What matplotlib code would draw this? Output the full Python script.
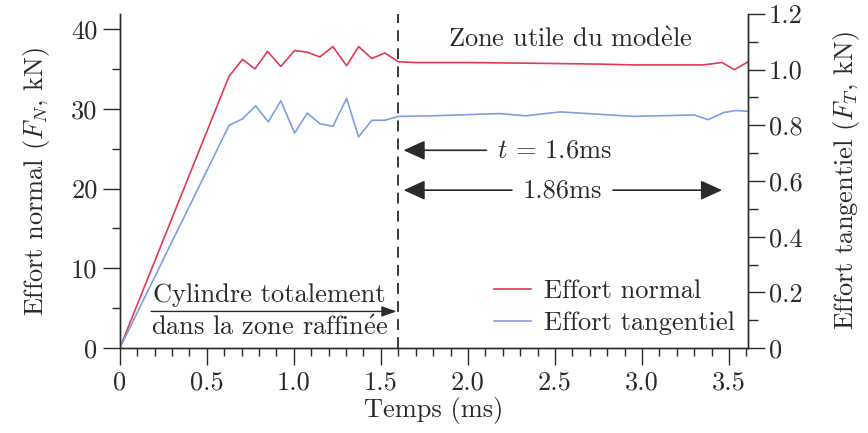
import matplotlib
matplotlib.use('Agg')
import matplotlib.pyplot as plt
from matplotlib.ticker import MultipleLocator

plt.rcParams['font.family'] = ['cmr10', 'DejaVu Serif']
plt.rcParams['mathtext.fontset'] = 'cm'
plt.rcParams['axes.formatter.use_mathtext'] = True
plt.rcParams['font.size'] = 19

# effort normal (kN), left axis
t_normal = [0, 0.628, 0.705, 0.776, 0.849, 0.925, 1.004, 1.077, 1.149, 1.224,
            1.303, 1.372, 1.448, 1.523, 1.60, 1.70, 2.0, 2.4, 2.76, 2.95,
            3.35, 3.46, 3.53, 3.61]
f_normal = [0, 34.1, 36.2, 35.0, 37.2, 35.3, 37.3, 37.1, 36.5, 37.8,
            35.4, 37.8, 36.3, 37.0, 35.9, 35.8, 35.8, 35.7, 35.6, 35.5,
            35.5, 35.8, 34.9, 35.9]

# effort tangentiel (kN), right axis
t_tang = [0, 0.628, 0.705, 0.78, 0.853, 0.925, 1.004, 1.077, 1.149, 1.224,
          1.303, 1.372, 1.448, 1.523, 1.60, 1.80, 2.18, 2.33, 2.53, 2.95,
          3.30, 3.38, 3.47, 3.54, 3.61]
f_tang = [0, 0.800, 0.823, 0.870, 0.812, 0.888, 0.772, 0.844, 0.806, 0.796,
          0.896, 0.758, 0.818, 0.818, 0.832, 0.834, 0.842, 0.834, 0.848, 0.832,
          0.837, 0.820, 0.846, 0.853, 0.850]

x_ticks = [0, 0.5, 1.0, 1.5, 2.0, 2.5, 3.0, 3.5]
x_labels = ['0', '0.5', '1.0', '1.5', '2.0', '2.5', '3.0', '3.5']
yl_ticks = [0, 10, 20, 30, 40]
yl_labels = ['0', '10', '20', '30', '40']
yr_ticks = [0, 0.2, 0.4, 0.6, 0.8, 1.0, 1.2]
yr_labels = ['0', '0.2', '0.4', '0.6', '0.8', '1.0', '1.2']

red = '#e23a55'
blue = '#7f9fe0'
dark = '#2a2a2a'

fig = plt.figure(figsize=(8.68, 4.33), dpi=100)
ax = fig.add_axes([0.138, 0.196, 0.724, 0.772])
ax2 = ax.twinx()

l1, = ax.plot(t_normal, f_normal, color=red, lw=1.2, label='Effort normal')
l2, = ax2.plot(t_tang, f_tang, color=blue, lw=1.2, label='Effort tangentiel')

ax.set_xlim(0, 3.61)
ax.set_ylim(0, 41.9)
ax2.set_ylim(0, 1.2)

for a in (ax, ax2):
    a.spines['top'].set_visible(False)
    for s in a.spines.values():
        s.set_color(dark)
        s.set_linewidth(1.0)

ax.set_xticks(x_ticks)
ax.set_xticklabels(x_labels)
ax.xaxis.set_minor_locator(MultipleLocator(0.1))
ax.set_yticks(yl_ticks)
ax.set_yticklabels(yl_labels)
ax.yaxis.set_minor_locator(MultipleLocator(5))
ax2.set_yticks(yr_ticks)
ax2.set_yticklabels(yr_labels)
ax2.yaxis.set_minor_locator(MultipleLocator(0.1))

ax.tick_params(which='major', length=12, width=1.0, color=dark, labelcolor=dark, pad=4)
ax.tick_params(which='minor', length=6, width=1.0, color=dark)
ax2.tick_params(which='major', length=12, width=1.0, color=dark, labelcolor=dark, pad=3)
ax2.tick_params(which='minor', length=7, width=1.0, color=dark)

ax.set_xlabel('Temps (ms)', color=dark, labelpad=2)
ax.set_ylabel('Effort normal ($F_N$, kN)', color=dark, labelpad=14)
ax2.set_ylabel('Effort tangentiel ($F_T$, kN)', color=dark, labelpad=20)

# limite de la zone utile
ax.axvline(1.6, color=dark, lw=1.3, ls=(0, (6, 4)))

ax.text(2.59, 38.6, r'Zone utile du mod$\grave{\mathrm{e}}$le', ha='center', va='center', color=dark)

arr = dict(arrowstyle='-|>,head_length=1.1,head_width=0.5', color=dark,
           lw=1.2, mutation_scale=12, shrinkA=0, shrinkB=0)
ax.annotate('', xy=(1.63, 24.8), xytext=(2.107, 24.8), arrowprops=arr)
ax.text(2.165, 24.8, '$t$ = 1.6ms', ha='left', va='center', color=dark)

ax.annotate('', xy=(1.63, 19.8), xytext=(2.253, 19.8), arrowprops=arr)
ax.annotate('', xy=(3.46, 19.8), xytext=(2.833, 19.8), arrowprops=arr)
ax.text(2.54, 19.8, '1.86ms', ha='center', va='center', color=dark)

arr2 = dict(arrowstyle='-|>,head_length=1.0,head_width=0.35', color=dark,
            lw=1.0, mutation_scale=9, shrinkA=0, shrinkB=0)
ax.annotate('', xy=(1.59, 4.6), xytext=(0.18, 4.6), arrowprops=arr2)
ax.text(0.19, 6.7, 'Cylindre totalement', ha='left', va='center', color=dark)
ax.text(0.18, 2.6, r'dans la zone raffin$\acute{\mathrm{e}}$e', ha='left', va='center', color=dark)

leg = ax.legend([l1, l2], ['Effort normal', 'Effort tangentiel'], loc='lower right',
                bbox_to_anchor=(1.0, 0.0), frameon=False, handlelength=1.4,
                labelspacing=0.3, borderaxespad=0.1, handletextpad=0.5)
for txt in leg.get_texts():
    txt.set_color(dark)

fig.savefig('out.png', dpi=100)
